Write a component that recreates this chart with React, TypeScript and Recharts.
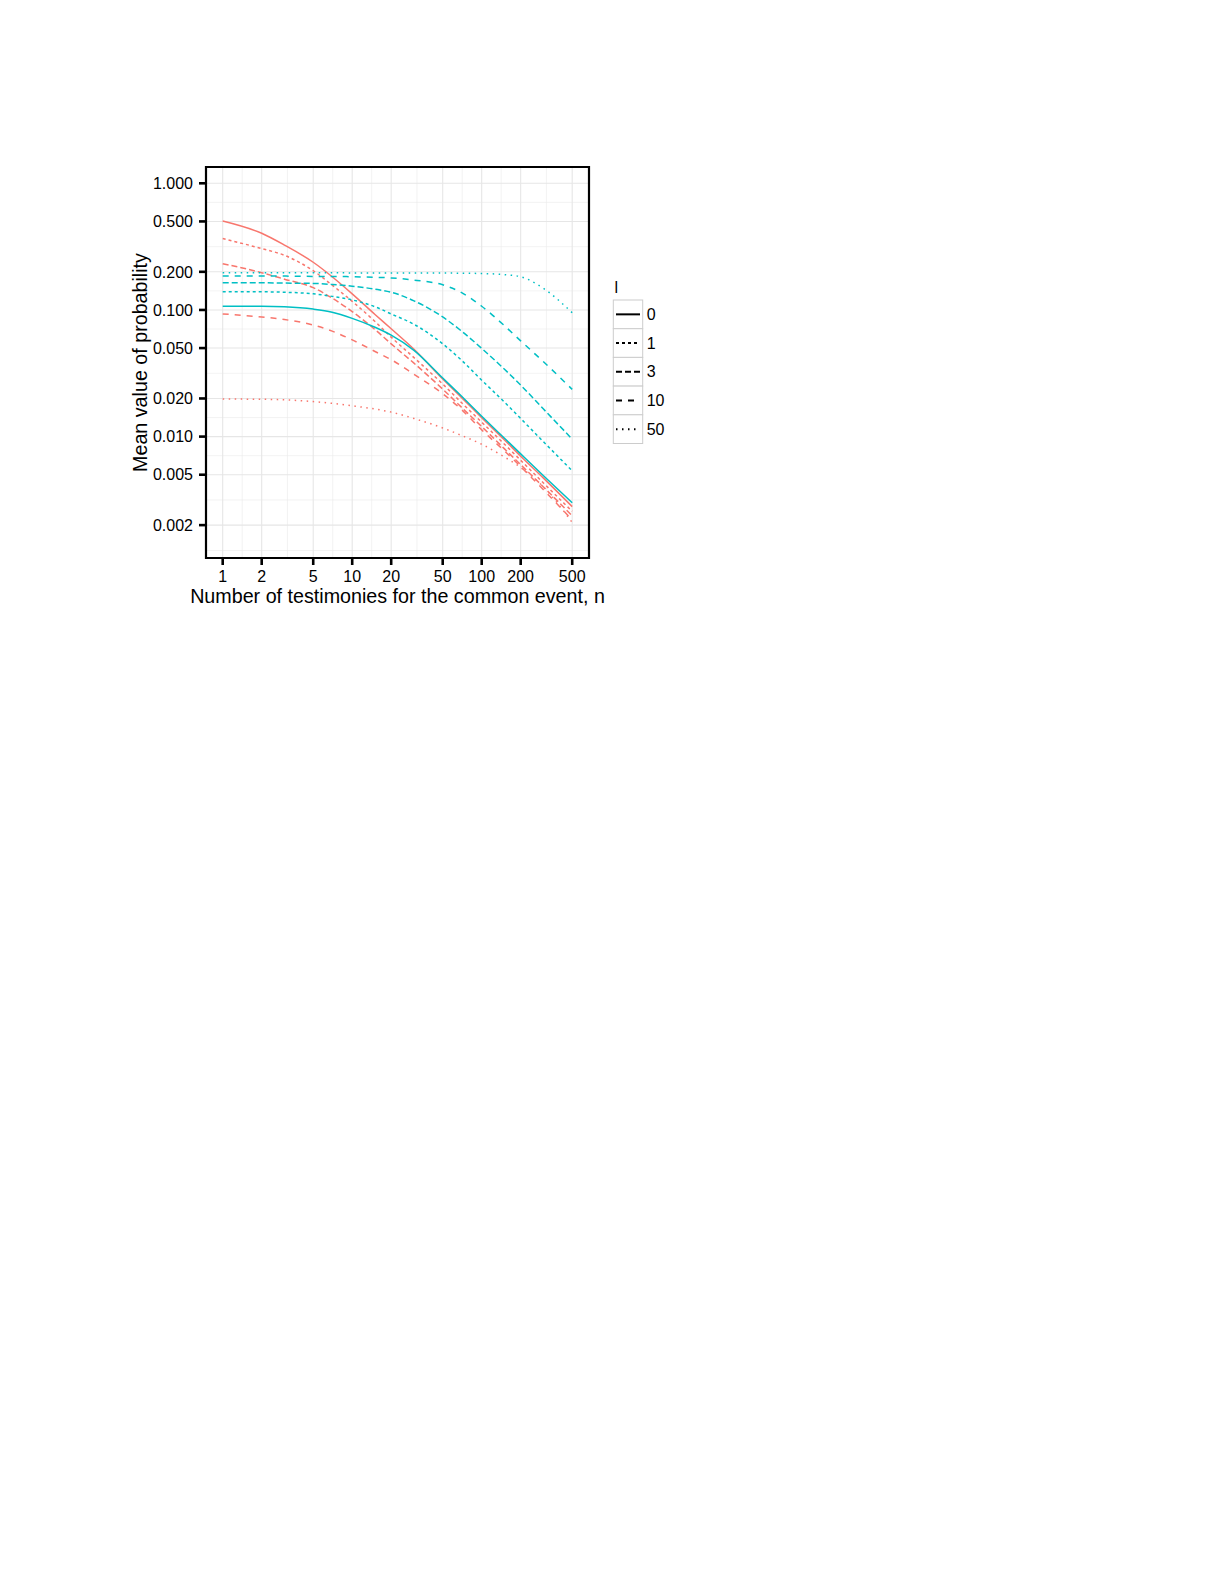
import React from 'react';
import { LineChart, Line, XAxis, YAxis, CartesianGrid, ReferenceArea, Label } from 'recharts';

// Number of testimonies n
const N = [1, 2, 3, 5, 7, 10, 15, 20, 30, 50, 70, 100, 150, 200, 300, 500];

// red group, by l
const red0 = [0.504, 0.403, 0.325, 0.238, 0.183, 0.134, 0.092, 0.071, 0.049, 0.0285, 0.0203, 0.0141, 0.0094, 0.007, 0.0047, 0.0028];
const red1 = [0.366, 0.305, 0.27, 0.204, 0.157, 0.117, 0.081, 0.061, 0.042, 0.026, 0.0185, 0.013, 0.0087, 0.0065, 0.0043, 0.00257];
const red3 = [0.232, 0.197, 0.175, 0.15, 0.124, 0.097, 0.07, 0.054, 0.038, 0.0237, 0.017, 0.012, 0.008, 0.006, 0.004, 0.00237];
const red10 = [0.093, 0.088, 0.084, 0.076, 0.068, 0.058, 0.047, 0.0405, 0.031, 0.0218, 0.0163, 0.0113, 0.0077, 0.0058, 0.0038, 0.0022];
const red50 = [0.0198, 0.0197, 0.0195, 0.0189, 0.0183, 0.0175, 0.0165, 0.0156, 0.0139, 0.0117, 0.0102, 0.0087, 0.0069, 0.0057, 0.004, 0.0021];

// cyan group, by l
const cyan0 = [0.107, 0.107, 0.106, 0.1016, 0.096, 0.0858, 0.073, 0.0633, 0.048, 0.029, 0.0208, 0.0145, 0.0097, 0.0073, 0.0049, 0.003];
const cyan1 = [0.139, 0.139, 0.138, 0.134, 0.128, 0.12, 0.106, 0.093, 0.077, 0.054, 0.04, 0.0279, 0.0187, 0.0139, 0.0091, 0.00537];
const cyan3 = [0.164, 0.164, 0.163, 0.162, 0.159, 0.154, 0.146, 0.138, 0.118, 0.088, 0.068, 0.0497, 0.034, 0.0255, 0.0165, 0.00955];
const cyan10 = [0.185, 0.185, 0.185, 0.184, 0.184, 0.183, 0.181, 0.179, 0.172, 0.158, 0.137, 0.107, 0.075, 0.057, 0.039, 0.0236];
const cyan50 = [0.197, 0.197, 0.197, 0.197, 0.197, 0.196, 0.196, 0.196, 0.196, 0.196, 0.195, 0.194, 0.19, 0.183, 0.148, 0.095];

// ticks
const X_TICKS = [1, 2, 5, 10, 20, 50, 100, 200, 500];
const Y_TICKS = [0.002, 0.005, 0.01, 0.02, 0.05, 0.1, 0.2, 0.5, 1];
const X_MINOR = [1.414, 3.162, 7.071, 14.14, 31.62, 70.71, 141.4, 316.2];
const Y_MINOR = [0.00126, 0.00316, 0.00707, 0.01414, 0.0316, 0.0707, 0.1414, 0.316, 0.707];
const X_DOMAIN = [0.743, 674];
const Y_DOMAIN = [0.0011, 1.345];

// legend levels
const LEVELS = ['0', '1', '3', '10', '50'];

const RED = '#F8766D';
const CYAN = '#00BFC4';
const DASH: Record<string, string | undefined> = {
  '0': undefined,
  '1': '3 3',
  '3': '6 3',
  '10': '6 6',
  '50': '1.5 4.5',
};
const FONT = "'Liberation Sans', Arial, sans-serif";

const data = N.map((n, i) => ({
  n,
  r0: red0[i], r1: red1[i], r3: red3[i], r10: red10[i], r50: red50[i],
  c0: cyan0[i], c1: cyan1[i], c3: cyan3[i], c10: cyan10[i], c50: cyan50[i],
}));

const YTitle = (props: any) => {
  const vb = props.viewBox || { x: 136, y: 167, width: 70, height: 391 };
  const cx = vb.x + vb.width - 59;
  const cy = vb.y + vb.height / 2;
  return (
    <text x={cx} y={cy} transform={`rotate(-90 ${cx} ${cy})`} textAnchor="middle"
      fontSize={19.7} fontFamily={FONT} fill="#000">Mean value of probability</text>
  );
};

const XTitle = (props: any) => {
  const vb = props.viewBox || { x: 206, y: 558, width: 383, height: 50 };
  const cx = vb.x + vb.width / 2;
  const cy = vb.y + 45;
  return (
    <text x={cx} y={cy} textAnchor="middle" fontSize={19.7} fontFamily={FONT} fill="#000">
      Number of testimonies for the common event, n
    </text>
  );
};

const LegendBox = () => {
  const rowH = 28.7;
  return (
    <svg width={80} height={190} style={{ position: 'absolute', left: 600, top: 270 }}>
      <text x={14.5} y={22.7} fontSize={16} fontFamily={FONT} fill="#000">l</text>
      {LEVELS.map((lv, i) => {
        const y0 = 30 + i * rowH;
        return (
          <g key={lv}>
            <rect x={13.3} y={y0} width={29.4} height={rowH} fill="#fff" stroke="#cccccc" strokeWidth={1} />
            <line x1={16} x2={40} y1={y0 + rowH / 2} y2={y0 + rowH / 2} stroke="#000" strokeWidth={2}
              strokeDasharray={DASH[lv]} />
            <text x={46.7} y={y0 + rowH / 2} dy="0.355em" fontSize={16} fontFamily={FONT} fill="#000">{lv}</text>
          </g>
        );
      })}
    </svg>
  );
};

const series = [
  { key: 'r0', color: RED, lv: '0' },
  { key: 'r1', color: RED, lv: '1' },
  { key: 'r3', color: RED, lv: '3' },
  { key: 'r10', color: RED, lv: '10' },
  { key: 'r50', color: RED, lv: '50' },
  { key: 'c0', color: CYAN, lv: '0' },
  { key: 'c1', color: CYAN, lv: '1' },
  { key: 'c3', color: CYAN, lv: '3' },
  { key: 'c10', color: CYAN, lv: '10' },
  { key: 'c50', color: CYAN, lv: '50' },
];

export default function App() {
  return (
    <div style={{ position: 'absolute', left: 0, top: 0, width: 700, height: 620, background: '#fff' }}>
      <LineChart width={700} height={620} data={data}
        margin={{ top: 167, left: 136, right: 111, bottom: 12 }}>
        <CartesianGrid stroke="#EBEBEB" strokeWidth={0.6} verticalValues={X_MINOR} horizontalValues={Y_MINOR} />
        <CartesianGrid stroke="#E6E6E6" strokeWidth={1.1} verticalValues={X_TICKS} horizontalValues={Y_TICKS} />
        <XAxis dataKey="n" type="number" scale="log" domain={X_DOMAIN} allowDataOverflow ticks={X_TICKS}
          height={50} axisLine={false} tickSize={7} tickMargin={6} interval={0}
          tickLine={{ stroke: '#000', strokeWidth: 2.6 }}
          tick={{ fill: '#000', fontSize: 16, fontFamily: FONT }}>
          <Label content={<XTitle />} />
        </XAxis>
        <YAxis type="number" scale="log" domain={Y_DOMAIN} allowDataOverflow ticks={Y_TICKS}
          width={70} axisLine={false} tickSize={7} tickMargin={6} interval={0}
          tickFormatter={(v: number) => v.toFixed(3)}
          tickLine={{ stroke: '#000', strokeWidth: 2.6 }}
          tick={{ fill: '#000', fontSize: 16, fontFamily: FONT }}>
          <Label content={<YTitle />} />
        </YAxis>
        {series.map((s) => (
          <Line key={s.key} dataKey={s.key} type="monotone" stroke={s.color} strokeWidth={1.5}
            strokeDasharray={DASH[s.lv]} dot={false} activeDot={false} isAnimationActive={false} />
        ))}
        <ReferenceArea x1={X_DOMAIN[0]} x2={X_DOMAIN[1]} y1={Y_DOMAIN[0]} y2={Y_DOMAIN[1]}
          fill="none" fillOpacity={0} stroke="#000" strokeWidth={2.2} ifOverflow="visible" />
      </LineChart>
      <LegendBox />
    </div>
  );
}
